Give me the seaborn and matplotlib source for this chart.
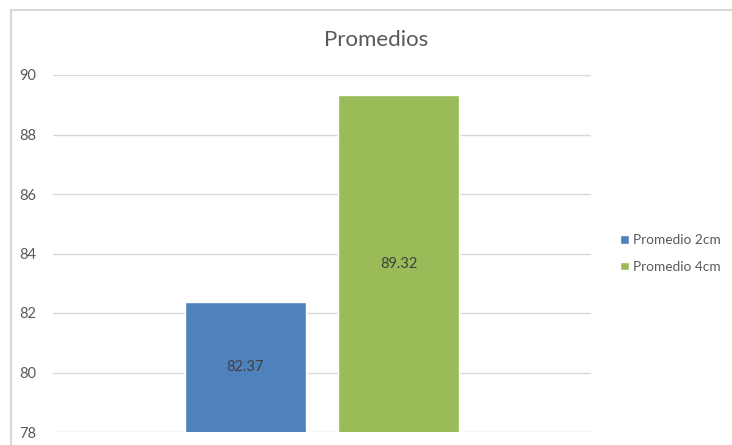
import matplotlib
matplotlib.use("Agg")
import matplotlib.pyplot as plt
from matplotlib.patches import Rectangle
import seaborn as sns
import pandas as pd

title = "Promedios"
category = ["Promedios", "Promedios"]
series = ["Promedio 2cm", "Promedio 4cm"]
values = [82.37, 89.32]
colors = ["#4F81BD", "#9BBB59"]
yticks = [78, 80, 82, 84, 86, 88, 90]

sns.set_theme(style="white")
plt.rcParams["font.family"] = ["Lato", "DejaVu Sans"]

df = pd.DataFrame({"cat": category, "serie": series, "valor": values})

fig = plt.figure(figsize=(7.32, 4.45), dpi=100)
ax = fig.add_axes([53 / 732, 13 / 445, 538 / 732, 357 / 445])

sns.barplot(data=df, x="cat", y="valor", hue="serie", palette=colors,
            width=0.569, gap=0.209, ax=ax, saturation=1, errorbar=None, zorder=3)

ax.set_xlim(-0.5, 0.5)
ax.set_ylim(78, 90)
ax.set_yticks(yticks)
ax.set_yticklabels([str(t) for t in yticks], color="#595959", fontsize=10.5)
ax.set_xticks([])
ax.set_xlabel("")
ax.set_ylabel("")
ax.tick_params(axis="y", length=0, pad=12)
ax.grid(axis="y", color="#d9d9d9", linewidth=1, zorder=0)
for s in ax.spines.values():
    s.set_visible(False)

for cont in ax.containers:
    for patch, v in zip(cont.patches, cont.datavalues):
        cx = patch.get_x() + patch.get_width() / 2
        ax.text(cx, (78 + v) / 2, f"{v:.2f}", ha="center", va="center",
                color="#404040", fontsize=10.5, zorder=5)

leg = ax.legend(loc="center left", bbox_to_anchor=(1.032, 0.5), frameon=False,
                fontsize=9.8, handlelength=0.6, handleheight=0.6,
                handletextpad=0.3, labelspacing=1.05)
for txt in leg.get_texts():
    txt.set_color("#595959")

fig.text(376 / 732, 1 - 40 / 445, title, ha="center", va="center",
         fontsize=16, color="#595959")

border = Rectangle((11 / 732, -0.1), 740 / 732, 1 - 10 / 445 + 0.1,
                   transform=fig.transFigure, fill=False,
                   edgecolor="#d9d9d9", linewidth=1.5)
fig.patches.append(border)

fig.savefig("out.png", dpi=100, facecolor="white")
